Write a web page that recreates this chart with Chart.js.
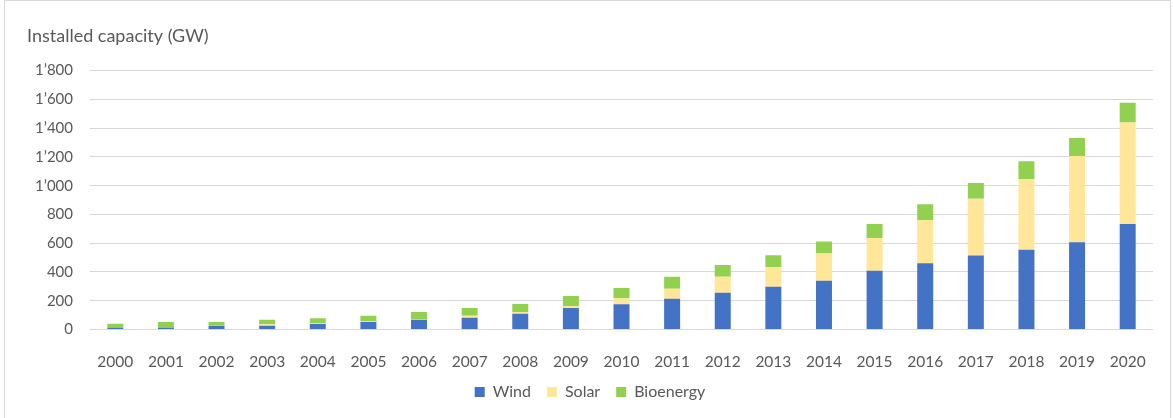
<!DOCTYPE html>
<html>
<head>
<meta charset="utf-8">
<script src="https://cdn.jsdelivr.net/npm/chart.js@4/dist/chart.umd.min.js"></script>
<style>
  html, body { margin: 0; padding: 0; background: #ffffff; overflow: hidden; }
  #wrap { position: relative; width: 1173px; height: 418px; }
  #frame { position: absolute; left: 4px; top: 0px; width: 1167px; height: 430px; border: 1px solid #d9d9d9; box-sizing: border-box; }
  canvas { position: absolute; left: 0; top: 0; }
</style>
</head>
<body>
<div id="wrap">
  <div id="frame"></div>
  <canvas id="c" width="1173" height="418"></canvas>
</div>
<script>
const years = ['2000','2001','2002','2003','2004','2005','2006','2007','2008','2009','2010',
               '2011','2012','2013','2014','2015','2016','2017','2018','2019','2020'];
const wind  = [12, 12, 26, 26, 39, 53, 67, 82, 110, 150, 175, 214, 256, 298, 339, 408, 461, 515, 554, 607, 733];
const solar = [1, 1, 1, 10, 2, 3, 4, 14, 12, 13, 42, 70, 111, 137, 189, 229, 300, 394, 492, 599, 707];
const bio   = [27, 40, 26, 31, 38, 39, 51, 54, 55, 70, 72, 83, 82, 81, 84, 96, 109, 109, 123, 125, 137];
const yTicks = [0, 200, 400, 600, 800, 1000, 1200, 1400, 1600, 1800];

const FONT = 'Lato, "Open Sans", sans-serif';
const TXT = '#595959';

function fmt(v) {
  if (v >= 1000) {
    return Math.floor(v / 1000) + '\u2019' + String(v % 1000).padStart(3, '0');
  }
  return String(v);
}

new Chart(document.getElementById('c'), {
  type: 'bar',
  data: {
    labels: years,
    datasets: [
      { label: 'Wind', data: wind, backgroundColor: '#4472C4' },
      { label: 'Solar', data: solar, backgroundColor: '#FFE699' },
      { label: 'Bioenergy', data: bio, backgroundColor: '#92D050' }
    ]
  },
  options: {
    responsive: false,
    animation: false,
    devicePixelRatio: 1,
    layout: { padding: { left: 27, right: 20, top: 0, bottom: 8 } },
    datasets: { bar: { categoryPercentage: 1.0, barPercentage: 0.316, borderWidth: 0 } },
    scales: {
      x: {
        stacked: true,
        grid: { display: false },
        border: { display: false },
        ticks: { color: TXT, font: { family: FONT, size: 15.5 }, padding: 15, maxRotation: 0 },
        afterFit(scale) { scale.height = 38.5; }
      },
      y: {
        stacked: true,
        min: 0,
        max: 1800,
        afterBuildTicks(scale) { scale.ticks = yTicks.map(v => ({ value: v })); },
        grid: { color: '#d9d9d9', lineWidth: 1, drawTicks: false },
        border: { display: false },
        ticks: {
          color: TXT,
          font: { family: FONT, size: 15 },
          padding: 17,
          callback: (v) => fmt(v)
        },
        afterFit(scale) { scale.width = 63; }
      }
    },
    plugins: {
      title: {
        display: true,
        text: 'Installed capacity (GW)',
        align: 'start',
        color: TXT,
        font: { family: FONT, size: 18, weight: 'normal' },
        padding: { top: 25, bottom: 24 }
      },
      legend: {
        position: 'bottom',
        labels: {
          color: TXT,
          font: { family: FONT, size: 16 },
          boxWidth: 10,
          boxHeight: 10,
          padding: 16
        }
      },
      tooltip: { enabled: false }
    }
  }
});
</script>
</body>
</html>
